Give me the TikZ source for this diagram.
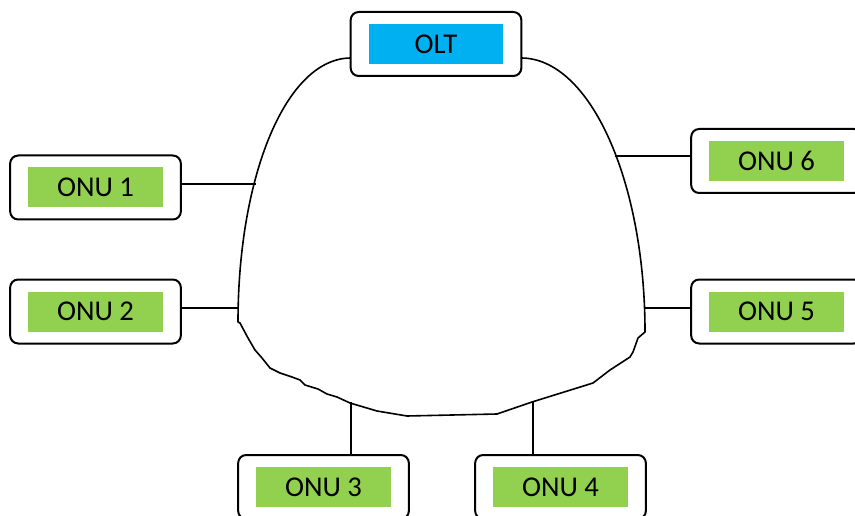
\documentclass[tikz,border=0pt]{standalone}
\usepackage{fontspec}
\setmainfont{Carlito}
\usetikzlibrary{positioning}

\definecolor{oltblue}{HTML}{00B0F0}
\definecolor{onugreen}{HTML}{92D050}

\tikzstyle{frame} = [rectangle, rounded corners=6pt, minimum width=128pt, minimum height=48pt, draw=black, line width=1.5pt, fill=white]
\tikzstyle{olt} = [rectangle, minimum width=101pt, minimum height=30pt, inner sep=0pt, fill=oltblue, font=\fontsize{21.5}{25}\selectfont]
\tikzstyle{onu} = [rectangle, minimum width=101pt, minimum height=30pt, inner sep=0pt, fill=onugreen, font=\fontsize{21.5}{25}\selectfont]

\begin{document}
\begin{tikzpicture}[x=0.75pt,y=-0.75pt,line join=round,node distance=93pt]
\useasboundingbox (0,0) rectangle (855,516);
\clip (0,0) rectangle (855,516);

% ring
\draw[line width=1.2pt] (351,58) .. controls (286,58) and (238,176) .. (238,322)
  -- (240,323) -- (248,338) -- (255,350) -- (262,358) -- (270,368) -- (280,373)
  -- (292,377) -- (300,380) -- (305,385) -- (318,389) -- (327,394) -- (337,397)
  -- (350,403) -- (377,411) -- (407,416) -- (497,414) -- (532,402) -- (577,388)
  -- (593,383) -- (610,370) -- (630,357) -- (633,352) -- (638,338) -- (645,332)
  .. controls (645,181) and (590,58) .. (521,58);

\coordinate (c1) at (256,184);
\coordinate (c2) at (239,308);
\coordinate (c3) at (351,402);
\coordinate (c4) at (533,402);
\coordinate (c5) at (645,308);
\coordinate (c6) at (615,156);

\node[frame] (OLT) at (436,44) {};
\node[olt] (OLTtxt) at (OLT) {OLT};

\node[frame] (ONU1) at (95.5,187.5) {};
\node[onu] at (ONU1) {ONU 1};
\node[frame] (ONU2) [below of=ONU1] {};
\node[onu] at (ONU2) {ONU 2};

\node[frame] (ONU6) at (776.5,161) {};
\node[onu] at (ONU6) {ONU 6};
\node[frame] (ONU5) at (776.5,311.5) {};
\node[onu] at (ONU5) {ONU 5};

\node[frame] (ONU3) at (323.5,487) {};
\node[onu] at (ONU3) {ONU 3};
\node[frame] (ONU4) at (560.5,487) {};
\node[onu] at (ONU4) {ONU 4};

\path[draw, line width=1.5pt]
  (ONU1.east |- c1) -- (c1)
  (ONU2.east |- c2) -- (c2)
  (ONU6.west |- c6) -- (c6)
  (ONU5.west |- c5) -- (c5)
  (ONU3.north -| c3) -- (c3)
  (ONU4.north -| c4) -- (c4)
  ;

\end{tikzpicture}
\end{document}
